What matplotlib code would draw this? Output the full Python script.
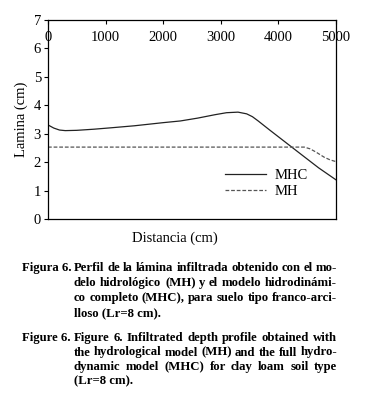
import numpy as np
import matplotlib
matplotlib.use('Agg')
import matplotlib.pyplot as plt

# MHC (full hydrodynamic model)
mhc_x = [0, 100, 200, 300, 500, 800, 1100, 1500, 2000, 2300, 2600, 2900, 3100, 3300, 3450, 3550, 3650, 3850, 4150, 4450, 4700, 5000]
mhc_y = [3.31, 3.2, 3.13, 3.11, 3.12, 3.16, 3.21, 3.28, 3.39, 3.45, 3.55, 3.67, 3.74, 3.76, 3.70, 3.60, 3.45, 3.13, 2.66, 2.19, 1.8, 1.38]

# MH (hydrological model)
mh_x = [0, 1000, 2000, 3000, 4000, 4450, 4550, 4650, 4800, 4900, 5000]
mh_y = [2.53, 2.53, 2.53, 2.53, 2.53, 2.53, 2.47, 2.36, 2.17, 2.08, 2.02]

xticks = [0, 1000, 2000, 3000, 4000, 5000]
yticks = [0, 1, 2, 3, 4, 5, 6, 7]

cap_es = ['Perfil de la lámina infiltrada obtenido con el mo-',
          'delo hidrológico (MH) y el modelo hidrodinámi-',
          'co completo (MHC), para suelo tipo franco-arci-',
          'lloso (Lr=8 cm).']
cap_en = ['Figure 6. Infiltrated depth profile obtained with',
          'the hydrological model (MH) and the full hydro-',
          'dynamic model (MHC) for clay loam soil type',
          '(Lr=8 cm).']

plt.rcParams['font.family'] = 'Liberation Serif'

fig = plt.figure(figsize=(3.72, 4.09), dpi=100)
ax = fig.add_axes([0.129, 0.4645, 0.774, 0.4865])

ax.plot(mhc_x, mhc_y, color='#222222', lw=0.9, label='MHC')
ax.plot(mh_x, mh_y, color='#555555', lw=0.9, ls=(0, (3, 1.5)), label='MH')

ax.set_xlim(0, 5000)
ax.set_ylim(0, 7)
ax.set_xticks(xticks)
ax.set_yticks(yticks)
ax.xaxis.tick_top()
ax.tick_params(axis='x', direction='in', pad=-17, labelsize=10.5, length=3, width=0.8)
ax.tick_params(axis='y', direction='out', labelsize=10.5, length=3, width=0.8, pad=2)
for s in ax.spines.values():
    s.set_linewidth(0.9)

ax.set_ylabel('Lamina (cm)', fontsize=10.5, labelpad=4)
fig.text(0.47, 0.418, 'Distancia (cm)', ha='center', va='center', fontsize=10.5)

ax.legend(loc='lower left', bbox_to_anchor=(0.57, 0.04), frameon=False,
          fontsize=10.5, handlelength=2.8, handletextpad=0.6, labelspacing=0.2)

# caption, justified between x0 and x1 (pixels)
fs = 9.2
x0, x1 = 74, 337
W, H = 372, 409
renderer = fig.canvas.get_renderer()


def put_lines(lines, y_first, step):
    for i, line in enumerate(lines):
        y = 1 - (y_first + step * i) / H
        words = line.split(' ')
        if i == len(lines) - 1 or len(words) == 1:
            fig.text(x0 / W, y, line, fontsize=fs, fontweight='bold', va='center')
            continue
        texts = [fig.text(0, y, w, fontsize=fs, fontweight='bold', va='center') for w in words]
        widths = [t.get_window_extent(renderer).width for t in texts]
        gap = (x1 - x0 - sum(widths)) / (len(words) - 1)
        xp = x0
        for t, w in zip(texts, widths):
            t.set_x(xp / W)
            xp += w + gap


fig.text(22 / W, 1 - 268 / H, 'Figura 6.', fontsize=fs, fontweight='bold', va='center')
put_lines(cap_es, 268, 15)
fig.text(22 / W, 1 - 338 / H, 'Figure 6.', fontsize=fs, fontweight='bold', va='center')
put_lines(cap_en, 338, 14.5)

fig.savefig('out.png', dpi=100)
